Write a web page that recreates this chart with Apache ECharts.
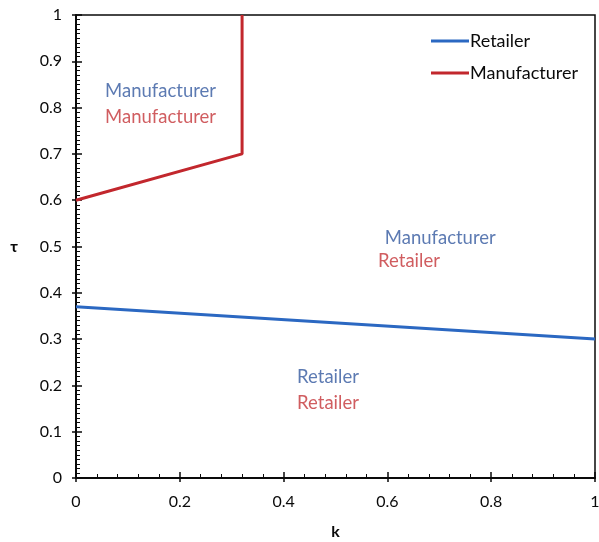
<!DOCTYPE html>
<html>
<head>
<meta charset="utf-8">
<script src="https://cdn.jsdelivr.net/npm/echarts@6/dist/echarts.min.js"></script>
<style>
  html, body { margin: 0; padding: 0; background: #fff; }
  #chart { width: 599px; height: 542px; }
</style>
</head>
<body>
<div id="chart"></div>
<script>
// Threshold boundaries in the (k, tau) plane
const retailerBoundary = [[0, 0.37], [1, 0.30]];
const manufacturerBoundary = [[0, 0.60], [0.32, 0.70], [0.32, 1.0]];

// Region labels, left-anchored: [k, tau, text]
const blueLabels = [[0.056, 0.836, 'Manufacturer'], [0.595, 0.518, 'Manufacturer'], [0.426, 0.218, 'Retailer']];
const redLabels = [[0.056, 0.780, 'Manufacturer'], [0.582, 0.469, 'Retailer'], [0.426, 0.162, 'Retailer']];

const xTicks = [0, 0.2, 0.4, 0.6, 0.8, 1];
const yTicks = [0, 0.1, 0.2, 0.3, 0.4, 0.5, 0.6, 0.7, 0.8, 0.9, 1];

const BLUE = '#2b68c2';
const RED = '#c2272d';
const BLUE_TXT = '#33599f';
const RED_TXT = '#c43538';
const FONT = 'Lato';
const INK = '#0a0a0a';

const chart = echarts.init(document.getElementById('chart'));

function labelSeries(data, color) {
  return {
    type: 'scatter',
    data: data.map(d => ({ value: [d[0], d[1]], name: d[2] })),
    symbolSize: 0,
    silent: true,
    label: {
      show: true,
      position: 'right',
      distance: 0,
      formatter: p => p.name,
      color: color,
      fontFamily: FONT,
      fontSize: 18.5
    },
    z: 5
  };
}

function tickText(list) {
  return v => { const t = list.find(x => Math.abs(x - v) < 1e-9); return t === undefined ? '' : String(t); };
}

chart.setOption({
  animation: false,
  backgroundColor: '#fff',
  grid: {
    left: 76, right: 4, top: 15, bottom: 64,
    outerBoundsMode: 'none',
    show: true, borderColor: INK, borderWidth: 1.5
  },
  legend: {
    orient: 'vertical',
    left: 426,
    top: 27,
    itemWidth: 38,
    itemHeight: 3,
    itemGap: 14,
    icon: 'rect',
    textStyle: { fontFamily: FONT, fontSize: 18, color: INK, padding: [0, 0, 0, -4] },
    data: ['Retailer', 'Manufacturer']
  },
  xAxis: [
    {
      type: 'value',
      min: 0, max: 1, interval: 0.2,
      name: 'k',
      nameLocation: 'middle',
      nameGap: 46,
      nameTextStyle: { fontFamily: FONT, fontSize: 16, fontWeight: 'bold', color: INK },
      axisLine: { show: true, lineStyle: { color: INK, width: 2 } },
      axisTick: { inside: true, length: 6, lineStyle: { color: INK, width: 1.5 } },
      minorTick: { show: true, splitNumber: 5, length: 4, lineStyle: { color: INK, width: 1 } },
      splitLine: { show: false },
      axisLabel: { margin: 16, fontFamily: FONT, fontSize: 16, color: INK, formatter: tickText(xTicks) }
    },
    {
      // outward half of the major ticks
      type: 'value', position: 'bottom',
      min: 0, max: 1, interval: 0.2,
      axisLine: { show: false },
      axisTick: { inside: false, length: 4, lineStyle: { color: INK, width: 1.5 } },
      axisLabel: { show: false },
      splitLine: { show: false }
    }
  ],
  yAxis: [
    {
      type: 'value',
      min: 0, max: 1, interval: 0.1,
      name: 'τ',
      nameLocation: 'middle',
      nameGap: 58,
      nameRotate: 0,
      nameTextStyle: { fontFamily: FONT, fontSize: 16, fontWeight: 'bold', color: INK },
      axisLine: { show: true, lineStyle: { color: INK, width: 2 } },
      axisTick: { inside: true, length: 6, lineStyle: { color: INK, width: 1.5 } },
      minorTick: { show: true, splitNumber: 10, length: 4, lineStyle: { color: INK, width: 1 } },
      splitLine: { show: false },
      axisLabel: { margin: 14, fontFamily: FONT, fontSize: 16, color: INK, formatter: tickText(yTicks) }
    },
    {
      type: 'value', position: 'left',
      min: 0, max: 1, interval: 0.1,
      axisLine: { show: false },
      axisTick: { inside: false, length: 4, lineStyle: { color: INK, width: 1.5 } },
      axisLabel: { show: false },
      splitLine: { show: false }
    }
  ],
  series: [
    {
      name: 'Retailer', type: 'line', data: retailerBoundary,
      symbol: 'none', lineStyle: { color: BLUE, width: 3 }, itemStyle: { color: BLUE }, z: 3
    },
    {
      name: 'Manufacturer', type: 'line', data: manufacturerBoundary,
      symbol: 'none', lineStyle: { color: RED, width: 3 }, itemStyle: { color: RED }, z: 3
    },
    labelSeries(blueLabels, BLUE_TXT),
    labelSeries(redLabels, RED_TXT)
  ]
});
</script>
</body>
</html>
